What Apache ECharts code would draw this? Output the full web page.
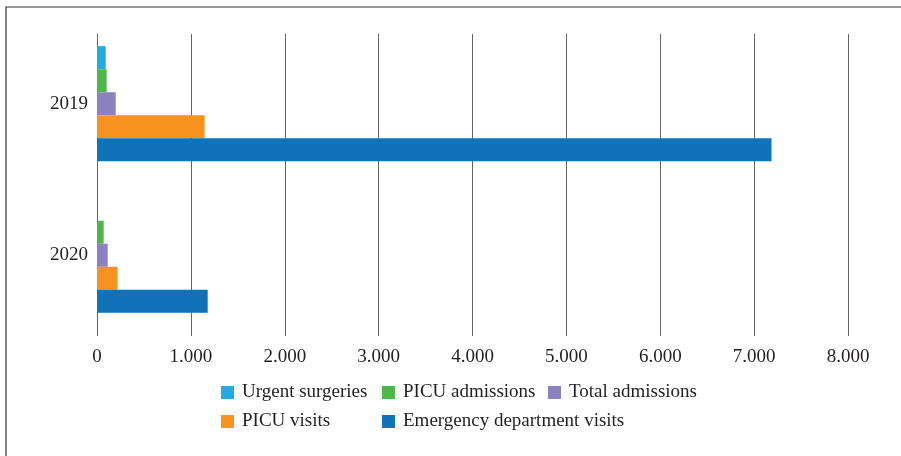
<!DOCTYPE html>
<html><head><meta charset="utf-8">
<script src="https://cdn.jsdelivr.net/npm/echarts@6/dist/echarts.min.js"></script>
<style>html,body{margin:0;padding:0;background:#fff}#c{width:901px;height:456px}</style>
</head><body><div id="c"></div>
<script>
const categories = ['2019', '2020'];
const seriesNames = ['Urgent surgeries', 'PICU admissions', 'Total admissions', 'PICU visits', 'Emergency department visits'];
const urgentSurgeries = [93, 0];
const picuAdmissions = [103, 71];
const totalAdmissions = [199, 114];
const picuVisits = [1147, 220];
const edVisits = [7185, 1179];
const xTicks = [0, 1000, 2000, 3000, 4000, 5000, 6000, 7000, 8000];
const colors = ['#22aae2', '#4cb848', '#8b82bf', '#f7931e', '#1072b9'];
const values = [urgentSurgeries, picuAdmissions, totalAdmissions, picuVisits, edVisits];

const font = 'Liberation Serif';
const txt = '#231f20';
const fmt = v => String(v).replace(/\B(?=(\d{3})+(?!\d))/g, '.');

const chart = echarts.init(document.getElementById('c'), null, {renderer: 'canvas'});
const legendCommon = {
  orient: 'vertical', top: 383, padding: 0, itemWidth: 13, itemHeight: 13, itemGap: 10,
  icon: 'rect', selectedMode: false,
  textStyle: {fontFamily: font, fontSize: 19, color: txt, padding: [0, 0, 0, 3]}
};
chart.setOption({
  animation: false,
  color: colors,
  graphic: [{type: 'rect', shape: {x: 6, y: 7, width: 1000, height: 1000}, style: {fill: 'none', stroke: '#333', lineWidth: 1.2}, silent: true}],
  legend: [
    Object.assign({left: 221, data: [seriesNames[0], seriesNames[3]]}, legendCommon),
    Object.assign({left: 382, data: [seriesNames[1], seriesNames[4]]}, legendCommon),
    Object.assign({left: 548, data: [seriesNames[2]]}, legendCommon)
  ],
  grid: [
    {left: 97, width: 751, top: 28, height: 303},
    {left: 97, width: 751, top: 34, height: 302}
  ],
  xAxis: [
    {gridIndex: 0, type: 'value', min: 0, max: 8000, interval: 1000, show: false},
    {gridIndex: 1, type: 'value', min: xTicks[0], max: xTicks[xTicks.length - 1], interval: 1000,
     axisLine: {show: false}, axisTick: {show: false},
     splitLine: {show: true, lineStyle: {color: '#666', width: 1}},
     axisLabel: {margin: 12, fontFamily: font, fontSize: 19, color: txt, formatter: fmt}}
  ],
  yAxis: [
    {gridIndex: 0, type: 'category', data: categories, inverse: true,
     axisLine: {show: false}, axisTick: {show: false}, splitLine: {show: false},
     axisLabel: {margin: 9, fontFamily: font, fontSize: 19, color: txt}},
    {gridIndex: 1, type: 'value', show: false}
  ],
  series: seriesNames.map((n, i) => ({
    name: n, type: 'bar', xAxisIndex: 0, yAxisIndex: 0,
    data: values[i], barGap: '0%', barCategoryGap: '24%',
    itemStyle: {color: colors[i]}, z: 3
  }))
});
</script></body></html>
